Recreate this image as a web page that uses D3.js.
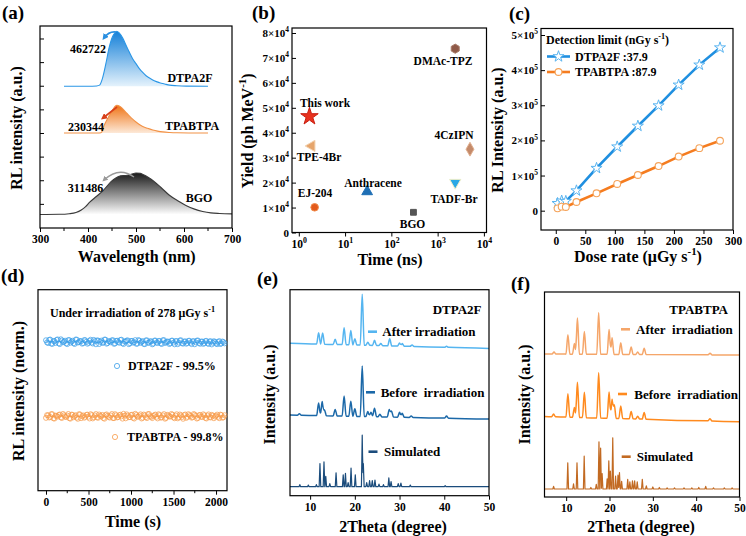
<!DOCTYPE html>
<html><head><meta charset="utf-8">
<script src="https://cdn.jsdelivr.net/npm/d3@7"></script>
<style>html,body{margin:0;padding:0;background:#fff;}svg{display:block;}</style>
</head><body>
<script>
// ================= DATA =================
// (a) RL spectra: [wavelength nm, normalised intensity]
const dtpa2fSpectrum = [[350,0],[400,0],[418,0.005],[424,0.02],[430,0.14],[437,0.4],[444,0.7],[451,0.9],[456,0.97],[460,1.0],[465,0.97],[472,0.88],[479,0.75],[486,0.62],[493,0.5],[500,0.41],[507,0.32],[514,0.25],[521,0.19],[528,0.15],[538,0.1],[549,0.065],[560,0.04],[570,0.02],[585,0.01],[605,0.003],[650,0]];
const tpabtpaSpectrum = [[350,0],[420,0],[427,0.01],[430,0.08],[433,0.25],[437,0.4],[444,0.62],[452,0.86],[460,1.0],[466,0.97],[472,0.88],[479,0.75],[486,0.62],[493,0.5],[500,0.4],[507,0.31],[514,0.24],[524,0.17],[535,0.11],[545,0.07],[556,0.04],[570,0.02],[585,0.008],[610,0.002],[650,0]];
const bgoSpectrum = [[300,0],[340,0.005],[361,0.02],[375,0.05],[386,0.11],[395,0.19],[403,0.29],[418,0.44],[431,0.57],[448,0.79],[458,0.88],[468,0.93],[478,0.94],[490,0.97],[500,1.0],[509,0.99],[517,0.95],[526,0.89],[535,0.82],[552,0.65],[569,0.47],[587,0.33],[604,0.22],[622,0.13],[639,0.075],[656,0.04],[674,0.025],[700,0.015]];
const spectrumNames = ["DTPA2F","TPABTPA","BGO"];
const spectrumPeakLabels = ["462722","230344","311486"];
const wavelengthTicks = [300,400,500,600,700];

// (b) light yield vs decay time
const yieldNames  = ["This work","TPE-4Br","EJ-204","Anthracene","BGO","DMAc-TPZ","4CzIPN","TADF-Br"];
const yieldTimes  = [1.7, 1.9, 2.2, 30, 300, 2400, 5000, 2400];
const yieldValues = [46500, 34700, 10100, 16400, 8100, 73700, 33400, 20000];
const yieldTicks  = [0,10000,20000,30000,40000,50000,60000,70000,80000];
const timeTicks   = [1,10,100,1000,10000];

// (c) dose-rate response
const doseRates  = [3, 10, 17, 35, 69, 104, 139, 174, 208, 243, 278];
const rlDTPA2F   = [21000, 28000, 27000, 57000, 121000, 182000, 241000, 299000, 358000, 415000, 464000];
const rlTPABTPA  = [6600, 11400, 10400, 24700, 49400, 76000, 101600, 127000, 154000, 178000, 199000];
const detectionLimits = ["37.9","87.9"];
const doseTicks  = [0,50,100,150,200,250,300];
const rlTicks    = [0,100000,200000,300000,400000,500000];

// (d) stability under irradiation: readings every 25 s, plus the mid-interval readings
const stabilityStep = 25;
const stabDTPA2F = [1.021,0.983,1.030,0.972,1.008,1.026,0.979,1.034,0.994,1.015,0.969,1.022,1.004,0.981,1.031,0.990,1.012,0.975,1.024,1.001,0.986,1.028,0.977,1.009,1.019,0.970,1.016,0.992,1.029,0.983,1.006,1.020,0.973,1.013,0.996,1.025,0.980,1.003,1.017,0.968,1.010,0.988,1.023,0.976,1.014,0.999,0.972,1.019,0.985,1.008,0.966,1.016,0.991,1.011,0.978,1.021,0.984,1.004,0.970,1.015,0.989,1.009,0.968,1.018,0.980,1.002,0.974,1.013,0.986,1.007,0.967,1.016,0.983,1.003,0.972,1.011,0.981,1.005,0.965,1.008,0.977,0.999,0.970,1.004,0.979];
const stabDTPA2FMid = [0.992,1.027,0.976,1.011,0.985,1.032,0.969,1.018,1.003,0.979,1.024,0.988,1.014,0.971,1.029,0.996,1.007,0.982,1.021,0.974,1.012,0.990,1.026,0.967,1.017,1.001,0.984,1.030,0.975,1.009,0.993,1.022,0.978,1.015,0.987,1.028,0.970,1.006,1.019,0.981,1.013,0.995,0.973,1.024,0.986,1.010,0.968,1.020,0.990,1.005,0.976,1.017,0.983,1.012,0.971,1.023,0.994,1.002,0.979,1.016,0.966,1.011,0.988,1.021,0.975,1.007,0.984,1.014,0.969,1.009,0.992,1.018,0.973,1.004,0.982,1.012,0.970,1.008,0.987,1.001,0.968,1.010,0.978,0.996];
const stabTPABTPA = [0.978,1.012,0.991,1.027,0.969,1.005,1.018,0.984,1.031,0.996,1.009,0.973,1.022,0.987,1.014,0.966,1.025,1.001,0.980,1.019,0.993,1.028,0.971,1.011,0.985,1.024,0.998,0.976,1.016,1.006,0.982,1.030,0.974,1.013,0.990,1.021,0.968,1.008,1.026,0.987,1.017,0.979,1.033,0.995,1.010,0.970,1.023,0.988,1.029,1.002,0.975,1.015,0.992,1.027,0.981,1.012,0.967,1.020,0.997,1.031,0.984,1.009,0.972,1.024,0.990,1.016,0.978,1.028,1.003,0.986,1.021,0.969,1.013,0.994,1.026,0.977,1.010,0.988,1.019,0.973,1.007,0.991,1.022,0.980,1.014];
const stabTPABTPAMid = [1.016,0.983,1.029,0.972,1.008,0.995,1.024,0.977,1.013,0.989,1.031,0.968,1.019,1.002,0.981,1.027,0.974,1.011,0.993,1.022,0.970,1.015,0.986,1.030,0.979,1.006,1.018,0.967,1.025,0.991,1.010,0.976,1.028,0.984,1.014,0.998,1.033,0.972,1.009,0.988,1.021,0.969,1.017,0.994,1.026,0.980,1.012,0.975,1.030,0.990,1.004,1.023,0.971,1.015,0.985,1.029,0.978,1.008,0.996,1.020,0.973,1.027,0.987,1.011,0.966,1.024,0.992,1.016,0.981,1.030,1.005,0.977,1.019,0.989,1.013,0.970,1.025,0.983,1.008,0.995,1.022,0.974,1.017,0.986];
const retention = ["99.5%","99.8%"];
const stabTimeTicks = [0,500,1000,1500,2000];

// (e) DTPA2F XRD peaks [2theta, relative height]
const xrdSimDTPA2F = [[7.7,0.04],[9.6,0.03],[11.4,0.04],[12.2,0.45],[13.1,0.48],[13.5,0.2],[14.4,0.06],[15.8,0.27],[17.4,0.23],[17.9,0.26],[18.5,0.08],[19.15,0.36],[20.1,0.23],[21.65,1.0],[21.9,0.45],[22.65,0.08],[23.3,0.12],[23.9,0.12],[24.5,0.13],[25.4,0.05],[26.4,0.04],[27.6,0.17],[28.1,0.1],[29.7,0.06],[30.3,0.07],[32.4,0.03],[40.2,0.02]];
const xrdBeforeDTPA2F = [[7.6,0.03],[11.9,0.25],[12.7,0.28],[13.2,0.12],[15.6,0.13],[17.6,0.4],[19.1,0.3],[20.0,0.15],[21.65,1.0],[22.9,0.1],[23.6,0.09],[24.4,0.17],[25.6,0.05],[27.7,0.15],[28.2,0.12],[30.0,0.1],[30.6,0.08],[32.6,0.03],[40.5,0.04]];
const xrdAfterDTPA2F = [[11.9,0.22],[12.8,0.22],[15.6,0.1],[17.6,0.33],[19.1,0.28],[20.0,0.12],[21.65,1.0],[22.9,0.06],[24.4,0.1],[25.8,0.04],[27.8,0.14],[30.0,0.06],[30.6,0.05],[32.8,0.03],[40.5,0.02]];
// (f) TPABTPA XRD peaks
const xrdSimTPABTPA = [[7.1,0.05],[10.37,0.51],[11.7,0.1],[12.5,0.51],[14.16,0.64],[15.7,0.03],[16.95,0.09],[17.57,0.92],[17.95,0.8],[18.3,0.3],[19.46,0.2],[19.84,0.55],[20.2,0.35],[20.75,1.0],[21.4,0.25],[21.96,0.27],[22.3,0.32],[22.8,0.15],[24.2,0.19],[24.7,0.14],[25.3,0.16],[25.8,0.16],[26.4,0.14],[27.57,0.19],[28.5,0.06],[30.0,0.04],[31.5,0.03],[33.3,0.02],[35.0,0.02],[37.2,0.02],[39.0,0.02],[40.6,0.03],[42.2,0.05],[44.0,0.02],[46.5,0.02],[48.3,0.02]];
const xrdBeforeTPABTPA = [[7.1,0.06],[10.4,0.52],[11.9,0.22],[12.6,0.78],[14.2,0.56],[17.5,1.0],[19.9,0.58],[20.6,0.42],[21.1,0.3],[22.6,0.28],[25.0,0.16],[26.5,0.06],[28.0,0.15],[43.2,0.05]];
const xrdAfterTPABTPA = [[7.2,0.05],[10.4,0.47],[11.9,0.26],[12.6,0.87],[14.2,0.55],[17.5,1.0],[19.9,0.6],[20.6,0.4],[22.6,0.28],[25.0,0.18],[26.5,0.06],[28.0,0.15],[43.2,0.04]];
const xrdLegendE = ["After irradiation","Before\u00a0 irradiation","Simulated"];
const xrdLegendF = ["After\u00a0 irradiation","Before\u00a0 irradiation","Simulated"];
const thetaTicks = [10,20,30,40,50];

// ================= HELPERS =================
const FONT = '"Liberation Serif","Times New Roman",Times,serif';
const TICK = 11.5;
const svg = d3.select("body").append("svg").attr("width",746).attr("height",536)
  .style("font-family",FONT).style("font-weight","bold");
const defs = svg.append("defs");

function frame(g,x0,y0,x1,y1){
  g.append("rect").attr("x",x0).attr("y",y0).attr("width",x1-x0).attr("height",y1-y0)
   .attr("fill","none").attr("stroke","#000").attr("stroke-width",1.2);
}
function txt(g,x,y,s,size,anchor="middle",fill="#000"){
  return g.append("text").attr("x",x).attr("y",y).attr("dy","0.35em").attr("font-size",size)
    .attr("text-anchor",anchor).attr("fill",fill).text(s);
}
function rich(t,parts,size){
  let shift=0;
  parts.forEach(p=>{
    const ts=t.append("tspan").text(p.t);
    if(p.sup){ ts.attr("font-size",size*0.68).attr("dy",-size*0.42); shift=size*0.42; }
    else if(shift){ ts.attr("dy",shift); shift=0; }
  });
  return t;
}
function richTxt(g,x,y,parts,size,anchor="start"){
  const t=g.append("text").attr("x",x).attr("y",y).attr("dy","0.35em").attr("font-size",size).attr("text-anchor",anchor);
  return rich(t,parts,size);
}
function vtitle(g,x,y,parts,size){
  const t=g.append("text").attr("transform",`translate(${x},${y}) rotate(-90)`)
    .attr("text-anchor","middle").attr("dy","0.35em").attr("font-size",size);
  return rich(t,parts,size);
}
function styleAxis(sel,size){
  sel.attr("font-family",null).attr("font-size",null);
  sel.select(".domain").remove();
  sel.selectAll(".tick text").attr("font-size",size).attr("fill","#000");
  sel.selectAll(".tick line").attr("stroke","#000").attr("stroke-width",1);
  return sel;
}
function panelLabel(x,y,s){ txt(svg,x,y,s,19,"start"); }
function arrowMarker(id,color){
  defs.append("marker").attr("id",id).attr("viewBox","0 0 10 10").attr("refX",6).attr("refY",5)
    .attr("markerWidth",4).attr("markerHeight",4).attr("orient","auto")
    .append("path").attr("d","M0,0 L10,5 L0,10 z").attr("fill",color);
}

// ================= (a) =================
{
  const g=svg.append("g");
  const x=d3.scaleLinear().domain([300,700]).range([40,232]);
  const y=d3.scaleLinear().domain([0,8.55]).range([228,26]);
  const specs=[
    {d:dtpa2fSpectrum, off:6.0, amp:2.33, line:"#2a96e6", top:"#1580d8", bot:"#e4f2fc"},
    {d:tpabtpaSpectrum, off:4.02, amp:1.17, line:"#f29246", top:"#ef7416", bot:"#fde9d8"},
    {d:bgoSpectrum, off:0.57, amp:1.76, line:"#3a3a3a", top:"#1a1a1a", bot:"#ffffff"}
  ];
  specs.forEach((s,i)=>{
    const id="gradA"+i;
    const lg=defs.append("linearGradient").attr("id",id).attr("gradientUnits","userSpaceOnUse")
      .attr("x1",0).attr("x2",0).attr("y1",y(s.off+s.amp)).attr("y2",y(s.off));
    lg.append("stop").attr("offset",0).attr("stop-color",s.top);
    lg.append("stop").attr("offset",1).attr("stop-color",s.bot);
    const area=d3.area().x(d=>x(d[0])).y0(y(s.off)).y1(d=>y(s.off+s.amp*d[1])).curve(d3.curveMonotoneX);
    const line=d3.line().x(d=>x(d[0])).y(d=>y(s.off+s.amp*d[1])).curve(d3.curveMonotoneX);
    g.append("path").datum(s.d).attr("d",area).attr("fill",`url(#${id})`);
    g.append("path").datum(s.d).attr("d",line).attr("fill","none").attr("stroke",s.line).attr("stroke-width",1.1);
  });
  arrowMarker("arB","#2a8fe0"); arrowMarker("arR","#d8401a"); arrowMarker("arG","#9a9a9a");
  g.append("path").attr("d","M116,32 Q109,31 104,38").attr("fill","none").attr("stroke","#2a8fe0").attr("stroke-width",1.6).attr("marker-end","url(#arB)");
  g.append("path").attr("d","M117,107 L103,118").attr("fill","none").attr("stroke","#d8401a").attr("stroke-width",1.6).attr("marker-end","url(#arR)");
  g.append("path").attr("d","M134,177 Q119,166 104,180").attr("fill","none").attr("stroke","#9a9a9a").attr("stroke-width",1.4).attr("marker-end","url(#arG)");
  txt(g,88,49,spectrumPeakLabels[0],12);
  txt(g,190,78,spectrumNames[0],12);
  txt(g,86,127,spectrumPeakLabels[1],12);
  txt(g,192,126,spectrumNames[1],12);
  txt(g,85.5,188,spectrumPeakLabels[2],12);
  txt(g,199,198,spectrumNames[2],12);
  styleAxis(g.append("g").attr("transform","translate(0,228)")
    .call(d3.axisBottom(x).tickValues(wavelengthTicks).tickSize(4).tickPadding(3).tickSizeOuter(0)),TICK);
  [350,450,550,650].forEach(v=>g.append("line").attr("x1",x(v)).attr("x2",x(v)).attr("y1",228).attr("y2",231).attr("stroke","#000"));
  [1,2,3,4,5,6,7,8].forEach(v=>g.append("line").attr("x1",40).attr("x2",44).attr("y1",y(v)).attr("y2",y(v)).attr("stroke","#000"));
  frame(g,40,26,232,228);
  richTxt(g,136.7,256,[{t:"Wavelength (nm)"}],16,"middle");
  vtitle(g,16.5,128,[{t:"RL intensity (a.u.)"}],16);
  panelLabel(2,12,"(a)");
}

// ================= (b) =================
{
  const g=svg.append("g");
  const x=d3.scaleLog().domain([0.713,11380]).range([292,486.5]);
  const y=d3.scaleLinear().domain([0,82000]).range([232.5,28]);
  frame(g,292,28,486.5,232.5);
  const yax=styleAxis(g.append("g").attr("transform","translate(292,0)")
    .call(d3.axisLeft(y).tickValues(yieldTicks).tickSize(-4).tickPadding(3).tickSizeOuter(0)),11);
  yax.selectAll(".tick text").each(function(d){
    const t=d3.select(this); t.text(null);
    if(d===0){ t.text("0"); return; }
    rich(t,[{t:(d/1e4)+"×10"},{t:"4",sup:true}],11);
  });
  const xax=styleAxis(g.append("g").attr("transform","translate(0,232.5)")
    .call(d3.axisBottom(x).tickValues(timeTicks).tickSize(4).tickPadding(3).tickSizeOuter(0)),TICK);
  xax.selectAll(".tick text").each(function(d){
    const t=d3.select(this); t.text(null);
    rich(t,[{t:"10"},{t:String(Math.round(Math.log10(d))),sup:true}],TICK);
  });
  const hexagon={draw(ctx,size){const r=Math.sqrt(size/(1.5*Math.sqrt(3)));for(let i=0;i<6;i++){const a=Math.PI/3*i+Math.PI/6;const px=r*Math.cos(a),py=r*Math.sin(a);if(i===0)ctx.moveTo(px,py);else ctx.lineTo(px,py);}ctx.closePath();}};
  const styles=[
    {sym:d3.symbolStar,size:95,rot:0,fill:"#e8321e",stroke:"#c81e10"},
    {sym:d3.symbolTriangle,size:55,rot:-90,fill:"#e6a56c",stroke:"#f3d2b0"},
    {sym:d3.symbolCircle,size:45,rot:0,fill:"#e35a1c",stroke:"#f08a4a"},
    {sym:d3.symbolTriangle,size:50,rot:0,fill:"#1f6fb5",stroke:"#1f6fb5"},
    {sym:d3.symbolSquare,size:34,rot:0,fill:"#555555",stroke:"#555555"},
    {sym:hexagon,size:55,rot:0,fill:"#8f5a48",stroke:"#a87a68"},
    {sym:d3.symbolDiamond,size:55,rot:0,fill:"#c48a6a",stroke:"#e0b090"},
    {sym:d3.symbolTriangle,size:55,rot:180,fill:"#2aa8e6",stroke:"#f4f0c8"}
  ];
  yieldNames.forEach((n,i)=>{
    const s=styles[i];
    g.append("path").attr("d",d3.symbol(s.sym,s.size)())
      .attr("transform",`translate(${x(yieldTimes[i])},${y(yieldValues[i])}) rotate(${s.rot})`)
      .attr("fill",s.fill).attr("stroke",s.stroke).attr("stroke-width",1);
  });
  const lp=[[325,103],[319,156.5],[315,192.5],[373,183],[412.5,224],[443,61],[454,135],[454,199]];
  yieldNames.forEach((n,i)=>txt(g,lp[i][0],lp[i][1],n,11.5));
  richTxt(g,390,259,[{t:"Time (ns)"}],16,"middle");
  vtitle(g,247,131,[{t:"Yield (ph MeV"},{t:"-1",sup:true},{t:")"}],16);
  panelLabel(252,12,"(b)");
}

// ================= (c) =================
{
  const g=svg.append("g");
  const x=d3.scaleLinear().domain([-25,300]).range([541,733]);
  const y=d3.scaleLinear().domain([-55000,518500]).range([230,28.5]);
  frame(g,541,28.5,733,230);
  const yax=styleAxis(g.append("g").attr("transform","translate(541,0)")
    .call(d3.axisLeft(y).tickValues(rlTicks).tickSize(-4).tickPadding(3).tickSizeOuter(0)),11);
  yax.selectAll(".tick text").each(function(d){
    const t=d3.select(this); t.text(null);
    if(d===0){ t.text("0"); return; }
    rich(t,[{t:(d/1e5)+"×10"},{t:"5",sup:true}],11);
  });
  styleAxis(g.append("g").attr("transform","translate(0,230)")
    .call(d3.axisBottom(x).tickValues(doseTicks).tickSize(4).tickPadding(3).tickSizeOuter(0)),TICK);
  const series=[{v:rlDTPA2F,c:"#1f8fe0",m:"#5ab4f0",star:true},{v:rlTPABTPA,c:"#f57c1f",m:"#f5a35a",star:false}];
  series.forEach(s=>{
    const pts=doseRates.map((d,i)=>[d,s.v[i]]);
    g.append("path").datum(pts).attr("d",d3.line().x(d=>x(d[0])).y(d=>y(d[1])))
      .attr("fill","none").attr("stroke",s.c).attr("stroke-width",2.6);
    pts.forEach(p=>{
      if(s.star) g.append("path").attr("d",d3.symbol(d3.symbolStar,38)()).attr("transform",`translate(${x(p[0])},${y(p[1])})`)
        .attr("fill","#fff").attr("stroke",s.m).attr("stroke-width",1);
      else g.append("circle").attr("cx",x(p[0])).attr("cy",y(p[1])).attr("r",3.4).attr("fill","#fff").attr("stroke",s.m).attr("stroke-width",1.1);
    });
  });
  richTxt(g,546,40,[{t:"Detection limit (nGy s"},{t:"-1",sup:true},{t:")"}],12);
  [["DTPA2F :"+detectionLimits[0],56.5,0],["TPABTPA :"+detectionLimits[1],72,1]].forEach(([lab,yy,i])=>{
    const s=series[i];
    g.append("line").attr("x1",547).attr("x2",570).attr("y1",yy).attr("y2",yy).attr("stroke",s.c).attr("stroke-width",2.6);
    if(s.star) g.append("path").attr("d",d3.symbol(d3.symbolStar,38)()).attr("transform",`translate(558.5,${yy})`).attr("fill","#fff").attr("stroke",s.m);
    else g.append("circle").attr("cx",558.5).attr("cy",yy).attr("r",3.4).attr("fill","#fff").attr("stroke",s.m).attr("stroke-width",1.1);
    txt(g,575,yy,lab,12,"start");
  });
  richTxt(g,638,256,[{t:"Dose rate (μGy s"},{t:"-1",sup:true},{t:")"}],16,"middle");
  vtitle(g,497,130,[{t:"RL Intensity (a.u.)"}],16);
  panelLabel(509,13,"(c)");
}

// ================= (d) =================
{
  const g=svg.append("g");
  const x=d3.scaleLinear().domain([-94,2129]).range([38,227]);
  const y=d3.scaleLinear().domain([0,2.7]).range([490.7,289.7]);
  frame(g,38,289.7,227,490.7);
  styleAxis(g.append("g").attr("transform","translate(0,490.7)")
    .call(d3.axisBottom(x).tickValues(stabTimeTicks).tickFormat(d3.format("d")).tickSize(4).tickPadding(3).tickSizeOuter(0)),TICK);
  [250,750,1250,1750].forEach(v=>g.append("line").attr("x1",x(v)).attr("x2",x(v)).attr("y1",490.7).attr("y2",493.2).attr("stroke","#000"));
  const sets=[
    {v:stabDTPA2F,t0:0,off:1.0,c:"#3a9ee8"},{v:stabDTPA2FMid,t0:0.5,off:1.0,c:"#3a9ee8"},
    {v:stabTPABTPA,t0:0,off:0,c:"#f79a48"},{v:stabTPABTPAMid,t0:0.5,off:0,c:"#f79a48"}
  ];
  sets.forEach(s=>{
    s.v.forEach((val,i)=>{
      g.append("circle").attr("cx",x((i+s.t0)*stabilityStep)).attr("cy",y(val+s.off)).attr("r",2.5)
        .attr("fill","none").attr("stroke",s.c).attr("stroke-width",0.7);
    });
  });
  richTxt(g,50,313,[{t:"Under irradiation of 278 μGy s"},{t:"-1",sup:true}],12);
  g.append("circle").attr("cx",117).attr("cy",366).attr("r",2.6).attr("fill","none").attr("stroke","#3a9ee8").attr("stroke-width",0.8);
  txt(g,128,366,"DTPA2F - "+retention[0],12,"start");
  g.append("circle").attr("cx",115).attr("cy",437).attr("r",2.6).attr("fill","none").attr("stroke","#f79a48").attr("stroke-width",0.8);
  txt(g,127,437,"TPABTPA - "+retention[1],12,"start");
  richTxt(g,133,521,[{t:"Time (s)"}],16,"middle");
  vtitle(g,18,391,[{t:"RL intensity (norm.)"}],16);
  panelLabel(1,275,"(d)");
}

// ================= XRD helper =================
function xrdPoints(peaks,hw,x0,x1,b0,b1,scale){
  const xs=new Set([x0,x1]);
  peaks.forEach(([p])=>{xs.add(p-hw);xs.add(p);xs.add(p+hw);});
  const arr=Array.from(xs).filter(v=>v>=x0&&v<=x1).sort((a,b)=>a-b);
  return arr.map(v=>{
    const base=b0+(b1-b0)*(v-x0)/(x1-x0);
    const h=d3.max(peaks,([p,hh])=>Math.max(0,hh*(1-Math.abs(v-p)/hw)));
    return [v,base+scale*h];
  });
}
function xrdPanel(box,dom,sets,title,titleX,legend,legendPos,label,labelPos,ytitleX,xtitlePos){
  const g=svg.append("g");
  const x=d3.scaleLinear().domain(dom).range([box[0],box[2]]);
  const y=d3.scaleLinear().domain([0,4]).range([box[3],box[1]]);
  sets.forEach(s=>{
    const pts=xrdPoints(s.peaks,s.hw,dom[0],dom[1],s.b0,s.b1,s.scale);
    g.append("path").datum(pts)
      .attr("d",d3.line().x(d=>x(d[0])).y(d=>y(d[1])).curve(s.smooth?d3.curveMonotoneX:d3.curveLinear))
      .attr("fill","none").attr("stroke",s.c).attr("stroke-width",s.w).attr("stroke-linejoin","round");
  });
  frame(g,box[0],box[1],box[2],box[3]);
  styleAxis(g.append("g").attr("transform",`translate(0,${box[3]})`)
    .call(d3.axisBottom(x).tickValues(thetaTicks).tickSize(4).tickPadding(3).tickSizeOuter(0)),TICK);
  txt(g,titleX,309,title,13,"end");
  legendPos.forEach((lp,i)=>{
    g.append("line").attr("x1",lp[0]).attr("x2",lp[0]+9).attr("y1",lp[1]).attr("y2",lp[1]).attr("stroke",sets[i].c).attr("stroke-width",2.6);
    txt(g,lp[2],lp[1],legend[i],13,"start");
  });
  richTxt(g,xtitlePos[0],xtitlePos[1],[{t:"2Theta (degree)"}],16,"middle");
  vtitle(g,ytitleX,394.5,[{t:"Intensity (a.u.)"}],16);
  panelLabel(labelPos[0],labelPos[1],label);
}

// ================= (e) =================
xrdPanel([290,289.7,489,495.7],[5.5,50],[
  {peaks:xrdAfterDTPA2F,hw:0.45,b0:2.96,b1:2.86,scale:0.99,c:"#55b5f0",w:1.5,smooth:true},
  {peaks:xrdBeforeDTPA2F,hw:0.45,b0:1.565,b1:1.49,scale:0.98,c:"#1b68a8",w:1.5,smooth:true},
  {peaks:xrdSimDTPA2F,hw:0.18,b0:0.175,b1:0.175,scale:1.0,c:"#1b4c7c",w:1.2,smooth:false}
],"DTPA2F",481.5,xrdLegendE,[[368,331.7,382.3],[366,392.3,380.7],[368.5,451.7,384]],"(e)",[257,278],269,[393,526.5]);

// ================= (f) =================
xrdPanel([544.5,292,739.5,497],[5,50],[
  {peaks:xrdAfterTPABTPA,hw:0.45,b0:2.79,b1:2.77,scale:0.81,c:"#f5a66a",w:1.5,smooth:true},
  {peaks:xrdBeforeTPABTPA,hw:0.45,b0:1.57,b1:1.47,scale:0.88,c:"#ff8a1e",w:1.5,smooth:true},
  {peaks:xrdSimTPABTPA,hw:0.18,b0:0.156,b1:0.156,scale:1.0,c:"#c26a22",w:1.2,smooth:false}
],"TPABTPA",728,xrdLegendF,[[621,329.3,636],[618,394,634.3],[621.7,456.7,636.7]],"(f)",[511,283],524.5,[641,526.5]);
</script>
</body></html>
